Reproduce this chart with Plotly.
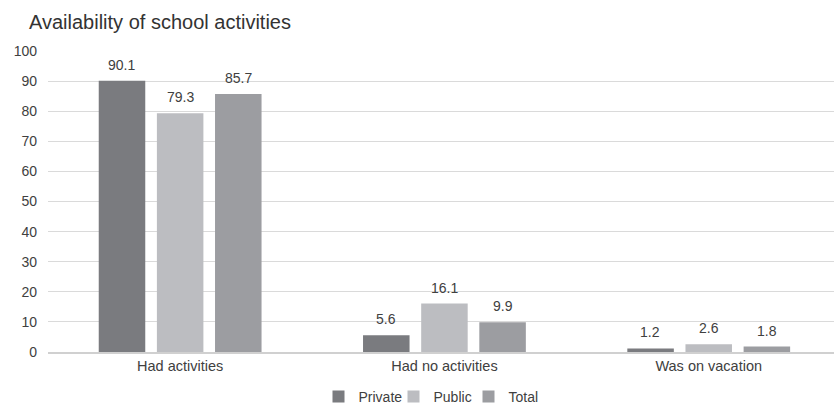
import plotly.graph_objects as go

categories = ["Had activities", "Had no activities", "Was on vacation"]
private = [90.1, 5.6, 1.2]
public = [79.3, 16.1, 2.6]
total = [85.7, 9.9, 1.8]
series_names = ["Private", "Public", "Total"]
colors = ["#7a7b7f", "#bcbdc1", "#9c9da1"]
y_ticks = [0, 10, 20, 30, 40, 50, 60, 70, 80, 90, 100]

fig = go.Figure()
offsets = [-58.5, 0, 58.5]
for i, (name, vals, col) in enumerate(zip(series_names, [private, public, total], colors)):
    fig.add_trace(go.Bar(
        x=categories, y=vals, name=name, marker_color=col,
        marker_line_width=0,
    ))
    for c, v in zip(categories, vals):
        fig.add_annotation(x=c, y=v, text=f"{v:.1f}", showarrow=False,
                           xshift=offsets[i], yshift=6, yanchor="bottom",
                           font=dict(size=14, color="#404040"))

fig.update_layout(
    width=834, height=409,
    margin=dict(l=48, r=0, t=51, b=57),
    paper_bgcolor="white", plot_bgcolor="white",
    font=dict(family="Liberation Sans, Arial, sans-serif", size=14, color="#404040"),
    title=dict(text="Availability of school activities", x=29/834, xanchor="left",
               xref="container", yref="container",
               y=1 - 22/409, yanchor="middle", font=dict(size=20, color="#333333")),
    barmode="group", bargap=0.34, bargroupgap=0.2,
    showlegend=True,
    legend=dict(orientation="h", x=0.5 + 14/834, xanchor="center", xref="container",
                yref="container", y=12/409, yanchor="middle",
                font=dict(size=14, color="#404040"), itemwidth=30,
                entrywidth=30, entrywidthmode="pixels",
                tracegroupgap=0, traceorder="normal"),
    xaxis=dict(range=[-0.5, 2.474], showgrid=False, showline=True,
               linecolor="#d0d0d0", linewidth=2, ticks="", tickfont=dict(size=14.5)),
    yaxis=dict(range=[0, 100], tickvals=y_ticks, showgrid=True,
               gridcolor="#dadada", gridwidth=1, zeroline=False,
               ticks="", tickfont=dict(size=14), ticklabelstandoff=10),
)

fig.write_html("out.html")
